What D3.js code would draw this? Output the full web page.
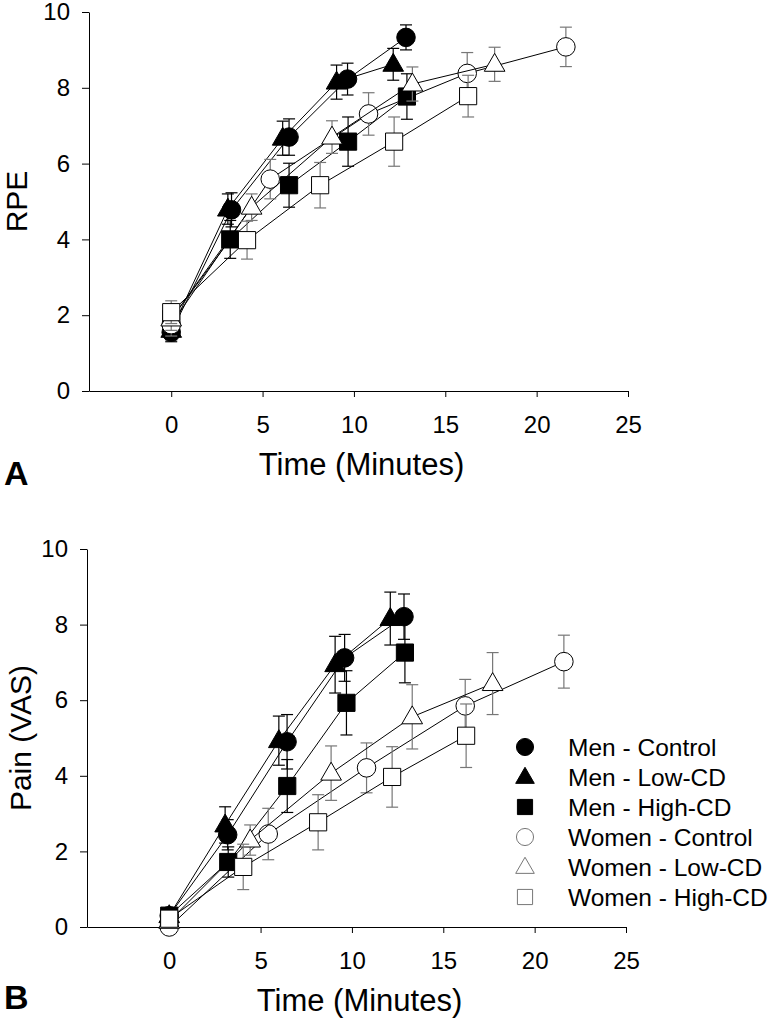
<!DOCTYPE html>
<html>
<head>
<meta charset="utf-8">
<script src="https://cdn.jsdelivr.net/npm/d3@7"></script>
<style>
  html, body { margin: 0; padding: 0; background: #fff; }
  svg { display: block; font-family: Arial, "Liberation Sans", Helvetica, sans-serif; }
</style>
</head>
<body>
<svg id="chart" width="774" height="1019"></svg>
<script>
// ---------- DATA ----------
const seriesNames = ["Men - Control", "Men - Low-CD", "Men - High-CD", "Women - Control", "Women - Low-CD", "Women - High-CD"];
const seriesShapes = ["circle", "triangle", "square", "circle", "triangle", "square"];
const seriesFilled = [true, true, true, false, false, false];

const xTicks = [0, 5, 10, 15, 20, 25];
const yTicks = [0, 2, 4, 6, 8, 10];

// Panel A: RPE
const rpeTime = [
  [0, 3.3, 6.45, 9.65, 12.85],
  [0, 3.1, 6.1, 9.05, 12.15],
  [0, 3.23, 6.45, 9.68, 12.9],
  [0, 5.42, 10.8, 16.2, 21.6],
  [0, 4.4, 8.8, 13.2, 17.7],
  [0, 4.15, 8.15, 12.2, 16.25]
];
const rpeValue = [
  [1.55, 4.78, 6.7, 8.23, 9.33],
  [1.6, 4.8, 6.67, 8.15, 8.62],
  [1.9, 4.0, 5.43, 6.58, 7.77],
  [1.75, 5.59, 7.31, 8.38, 9.08],
  [1.9, 4.85, 6.7, 8.1, 8.62],
  [2.08, 3.98, 5.43, 6.58, 7.78]
];
const rpeError = [
  [0.25, 0.45, 0.48, 0.42, 0.33],
  [0.25, 0.4, 0.45, 0.45, 0.42],
  [0.3, 0.5, 0.58, 0.65, 0.6],
  [0.3, 0.52, 0.56, 0.55, 0.52],
  [0.3, 0.35, 0.43, 0.45, 0.45],
  [0.3, 0.5, 0.6, 0.65, 0.55]
];

// Panel B: Pain (VAS)
const painTime = [
  [0, 3.2, 6.45, 9.6, 12.85],
  [0, 3.06, 6.0, 9.08, 12.1],
  [0, 3.23, 6.46, 9.7, 12.9],
  [0, 5.42, 10.8, 16.2, 21.6],
  [0, 4.43, 8.86, 13.3, 17.7],
  [0, 4.05, 8.15, 12.2, 16.25]
];
const painValue = [
  [0.3, 2.44, 4.9, 7.12, 8.21],
  [0.3, 2.7, 4.93, 6.94, 8.16],
  [0.3, 1.72, 3.73, 5.93, 7.26],
  [0.0, 2.46, 4.21, 5.85, 7.02],
  [0.15, 2.3, 4.07, 5.56, 6.44],
  [0.22, 1.59, 2.77, 3.97, 5.06]
];
const painError = [
  [0.1, 0.4, 0.72, 0.62, 0.6],
  [0.1, 0.48, 0.65, 0.75, 0.7],
  [0.1, 0.4, 0.7, 0.85, 0.8],
  [0.05, 0.68, 0.66, 0.7, 0.7],
  [0.1, 0.4, 0.72, 0.85, 0.82],
  [0.1, 0.6, 0.73, 0.8, 0.84]
];

// ---------- DRAW ----------
const svg = d3.select("#chart");

function symbolPath(shape, big) {
  const type = shape === "circle" ? d3.symbolCircle : shape === "triangle" ? d3.symbolTriangle : d3.symbolSquare;
  const size = shape === "circle" ? (big ? 270 : 230) : shape === "triangle" ? (big ? 185 : 150) : (big ? 295 : 230);
  return d3.symbol().type(type).size(size)();
}

function drawPanel(cfg) {
  const x = d3.scaleLinear().domain([-4.5, 25]).range([cfg.left, cfg.right]);
  const y = d3.scaleLinear().domain([0, 10]).range([cfg.bottom, cfg.top]);
  const g = svg.append("g");

  // axes
  const yAxis = d3.axisLeft(y).tickValues(yTicks).tickSize(7).tickSizeOuter(0).tickPadding(12).tickFormat(d3.format("d"));
  const ya = g.append("g").attr("transform", `translate(${cfg.left},0)`).call(yAxis);
  const xAxis = d3.axisBottom(x).tickValues(xTicks).tickSize(6).tickSizeOuter(0).tickPadding(19).tickFormat(d3.format("d"));
  const xa = g.append("g").attr("transform", `translate(0,${cfg.bottom})`).call(xAxis);
  [ya, xa].forEach(a => {
    a.selectAll("text").attr("font-size", 24).attr("fill", "#000").attr("font-family", "Arial, 'Liberation Sans', sans-serif");
    a.selectAll("line").attr("stroke", "#000");
    a.select(".domain").attr("stroke", "#000");
  });

  // axis titles
  g.append("text").attr("x", (cfg.left + cfg.right) / 2 + 3).attr("y", cfg.bottom + 84)
    .attr("text-anchor", "middle").attr("font-size", 31).text("Time (Minutes)");
  g.append("text").attr("transform", `translate(${cfg.yTitleX},${(cfg.top + cfg.bottom) / 2}) rotate(-90)`)
    .attr("text-anchor", "middle").attr("font-size", 30).text(cfg.yTitle);
  g.append("text").attr("x", 4).attr("y", cfg.bottom + cfg.letterDy)
    .attr("font-size", 34).attr("font-weight", "bold").text(cfg.letter);

  const line = d3.line().x(d => x(d.t)).y(d => y(d.v));

  seriesNames.forEach((name, i) => {
    const pts = cfg.time[i].map((t, j) => ({ t, v: cfg.value[i][j], e: cfg.error[i][j] }));
    const sg = g.append("g");
    const ecol = seriesFilled[i] ? "#000" : "#777";
    // error bars
    pts.forEach(p => {
      sg.append("line").attr("x1", x(p.t)).attr("x2", x(p.t))
        .attr("y1", y(p.v - p.e)).attr("y2", y(p.v + p.e)).attr("stroke", ecol).attr("stroke-width", 1.2);
      [p.v - p.e, p.v + p.e].forEach(vv => {
        sg.append("line").attr("x1", x(p.t) - 6).attr("x2", x(p.t) + 6)
          .attr("y1", y(vv)).attr("y2", y(vv)).attr("stroke", ecol).attr("stroke-width", 1.2);
      });
    });
    // connecting line
    sg.append("path").datum(pts).attr("d", line).attr("fill", "none").attr("stroke", "#000").attr("stroke-width", 1);
    // markers
    sg.selectAll("path.m").data(pts).enter().append("path").attr("class", "m")
      .attr("transform", d => `translate(${x(d.t)},${y(d.v) + (seriesShapes[i] === "triangle" ? 1 : 0)})`)
      .attr("d", symbolPath(seriesShapes[i], true))
      .attr("fill", seriesFilled[i] ? "#000" : "#fff")
      .attr("stroke", "#000").attr("stroke-width", 1);
  });
}

drawPanel({ left: 89, right: 628, top: 12, bottom: 391, time: rpeTime, value: rpeValue, error: rpeError,
  yTitle: "RPE", yTitleX: 27, letter: "A", letterDy: 94 });
drawPanel({ left: 87, right: 626, top: 549, bottom: 927, time: painTime, value: painValue, error: painError,
  yTitle: "Pain (VAS)", yTitleX: 31, letter: "B", letterDy: 82 });

// legend (panel B)
const legendY = d3.scaleBand().domain(seriesNames).range([732, 912]);
const lg = svg.append("g");
seriesNames.forEach((name, i) => {
  const cy = legendY(name) + legendY.bandwidth() / 2;
  lg.append("path").attr("transform", `translate(525,${cy + (seriesShapes[i] === "triangle" ? 1 : 0)})`)
    .attr("d", symbolPath(seriesShapes[i], false))
    .attr("fill", seriesFilled[i] ? "#000" : "#fff")
    .attr("stroke", seriesFilled[i] ? "#000" : "#777").attr("stroke-width", 1);
  lg.append("text").attr("x", 568).attr("y", cy + 8.5).attr("font-size", 24.5).text(name);
});
</script>
</body>
</html>
